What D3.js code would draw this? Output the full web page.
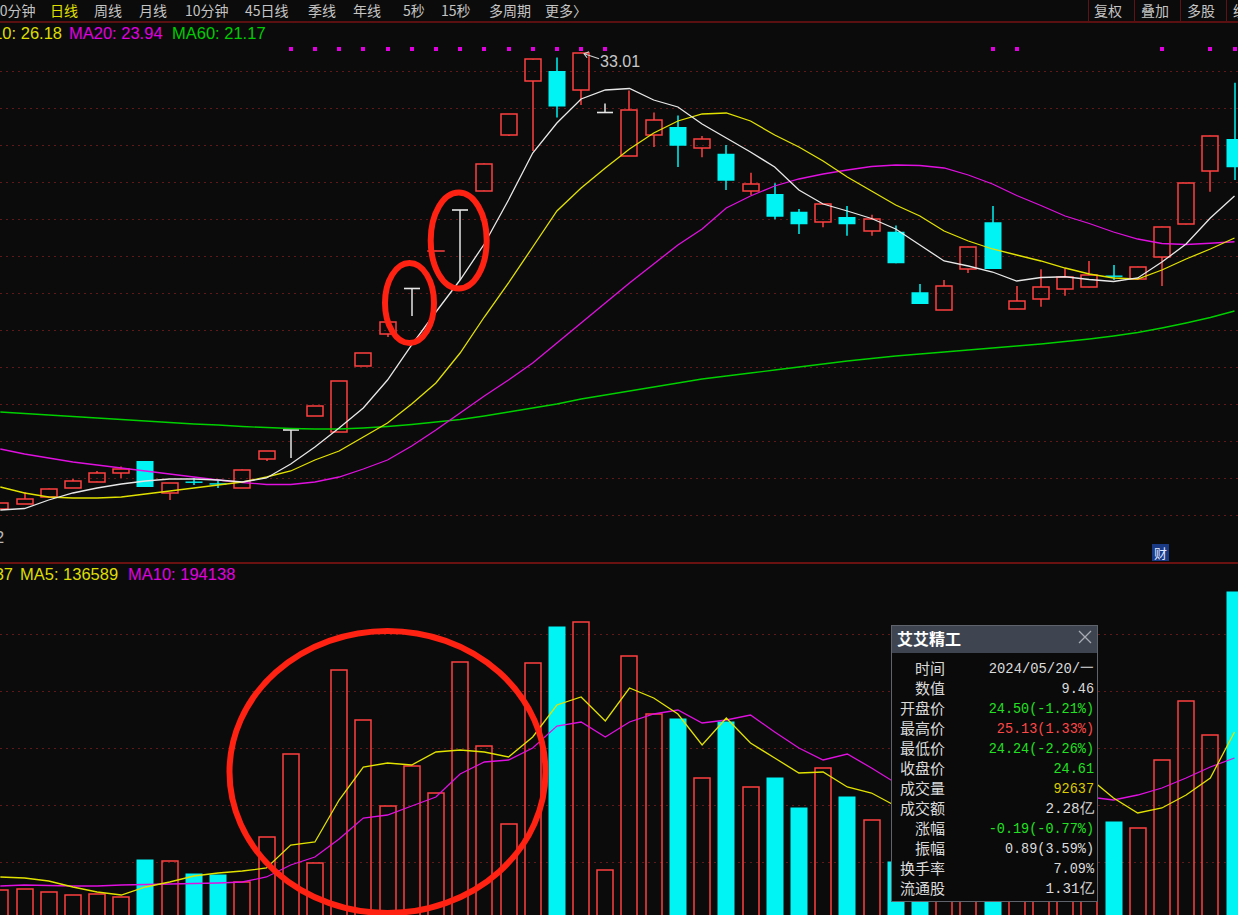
<!DOCTYPE html>
<html><head><meta charset="utf-8">
<script src="https://cdn.jsdelivr.net/npm/d3@7/dist/d3.min.js"></script>
<style>
html,body{margin:0;padding:0;background:#0b0b0b;overflow:hidden;}
svg{display:block;}
</style></head><body>
<svg id="c" width="1238" height="915"></svg>
<script>
// ---------------- DATA ----------------
const candleIndex = [0,1,2,3,4,5,6,7,8,9,10,11,12,13,14,15,16,17,18,19,20,21,22,23,24,25,26,27,28,29,30,31,32,33,34,35,36,37,38,39,40,41,42,43,44,45,46,47,48,49,50,51];
const open  = [14.76,14.96,15.26,15.60,15.86,16.18,16.68,15.42,15.86,15.79,15.60,16.76,17.92,18.48,17.84,20.48,21.76,23.58,25.08,26.72,27.50,29.74,31.88,32.28,31.50,30.62,28.88,29.72,30.04,29.19,28.97,27.48,27.36,26.65,26.24,26.44,25.88,25.85,23.43,22.72,24.36,26.23,22.77,23.16,23.57,23.63,24.10,23.96,24.85,26.15,28.29,29.56];
const close = [15.00,15.16,15.58,15.88,16.18,16.38,15.64,15.80,15.85,15.78,16.34,17.08,17.92,18.88,19.88,21.00,22.24,23.58,25.09,26.72,28.58,30.56,32.74,30.86,33.01,30.62,30.72,30.30,29.29,29.56,27.89,27.77,26.45,26.15,26.97,26.15,26.35,24.59,22.96,23.68,25.25,24.36,23.09,23.65,24.05,24.12,24.09,24.45,26.05,27.79,29.69,28.43];
const high  = [15.00,15.44,15.58,15.96,16.28,16.46,16.68,15.80,16.00,15.94,16.34,17.08,17.92,18.88,19.88,21.00,22.24,23.58,25.09,26.72,28.58,30.56,32.74,32.82,33.01,30.98,31.50,30.62,30.50,29.68,29.32,28.21,27.79,26.76,26.97,26.88,26.53,26.10,23.76,23.92,25.25,26.88,23.68,24.35,24.39,24.68,24.52,24.45,26.05,27.79,29.69,31.81];
const low   = [14.76,14.96,15.20,15.60,15.86,16.00,15.64,15.12,15.72,15.60,15.60,16.68,16.80,18.48,17.84,20.48,21.64,22.48,25.08,23.92,27.50,29.68,29.08,30.42,30.92,30.62,28.88,29.24,28.44,28.83,27.52,27.32,26.35,25.76,26.03,25.69,25.69,24.59,22.96,22.72,24.20,24.36,22.77,22.85,23.29,23.63,23.92,23.96,23.68,26.15,27.45,27.92];

const ma5  = [14.72,14.78,15.12,15.40,15.60,15.76,15.88,15.96,15.96,15.92,15.84,16.00,16.56,17.24,18.00,18.80,19.92,21.32,22.64,23.92,25.36,27.12,29.00,30.20,31.16,31.52,31.58,31.12,30.84,30.16,29.60,29.04,28.44,27.52,26.96,26.68,26.38,25.96,25.32,24.68,24.48,24.24,23.88,24.02,24.05,23.94,23.86,24.00,24.64,25.36,26.40,27.28];
const ma10 = [15.64,15.40,15.24,15.20,15.20,15.24,15.36,15.48,15.60,15.72,15.84,16.04,16.28,16.72,17.08,17.64,18.20,18.96,19.80,21.00,22.44,23.80,25.24,26.68,27.60,28.40,29.16,29.80,30.28,30.56,30.60,30.28,29.72,29.24,28.68,28.04,27.48,26.92,26.48,25.88,25.48,25.16,24.92,24.68,24.40,24.16,24.00,23.96,24.32,24.76,25.16,25.60];
const ma20 = [17.16,16.96,16.80,16.64,16.52,16.40,16.28,16.16,16.04,15.92,15.82,15.74,15.74,15.84,16.04,16.36,16.72,17.28,17.92,18.60,19.28,19.92,20.60,21.40,22.20,23.00,23.80,24.56,25.32,25.96,26.80,27.28,27.68,27.96,28.16,28.32,28.46,28.52,28.50,28.40,28.12,27.76,27.30,26.90,26.48,26.18,25.84,25.56,25.38,25.34,25.39,25.45];
const ma60 = [18.64,18.58,18.52,18.46,18.40,18.34,18.28,18.22,18.16,18.12,18.06,18.02,17.98,17.96,17.96,18.00,18.06,18.14,18.24,18.34,18.48,18.64,18.80,18.96,19.16,19.32,19.48,19.64,19.80,19.96,20.08,20.20,20.32,20.44,20.56,20.68,20.78,20.88,20.96,21.04,21.12,21.20,21.28,21.36,21.46,21.56,21.68,21.82,22.00,22.20,22.42,22.68];

const volume  = [31250,32500,29125,25000,26250,22875,68750,67875,51250,50000,41625,97875,201250,64625,306250,243750,136250,186625,152875,315875,211625,113375,314625,359625,365875,56250,324125,250875,244625,171625,241625,160375,170875,133375,183375,147125,118750,66625,150000,160000,120000,200000,110000,100000,90000,95000,115875,108375,193750,267875,225000,403750];
const volMA5  = [47500,46250,42500,35000,28750,25000,35000,41250,48750,52500,55000,58750,87500,91250,143750,185000,190000,187500,203750,206250,203750,197500,222500,262500,272500,242500,283750,271250,251250,212500,246250,215000,196250,177500,178750,160000,152500,136250,125000,118750,121250,137500,150000,162500,171250,171250,146250,127500,133750,150000,171250,228750];
const volMA10 = [36250,37500,36875,36250,36250,37500,38125,38750,39375,40000,41250,47500,62500,72500,95000,121250,125000,136250,147500,176250,191250,193750,208750,236250,241250,222500,241250,251250,256250,240000,243750,250000,228750,208750,193750,201250,183750,165000,160000,156250,153750,152500,151250,150000,148750,147500,143750,150000,158750,171250,185000,196250];

const signalFlag = [0,0,0,0,0,0,0,0,0,0,0,0,1,1,1,1,1,1,1,1,1,1,1,1,1,1,0,0,0,0,0,0,0,0,0,0,0,0,0,0,0,1,1,0,0,0,0,0,1,0,1,1];

const peakLabel = "33.01";
const priceLegend = [["MA10: 26.18","#dede00"],["MA20: 23.94","#e000e0"],["MA60: 21.17","#00cc00"]];
const volLegend = [["VOL: 92637","#dede00"],["MA5: 136589","#dede00"],["MA10: 194138","#e000e0"]];
const periodTabs = ["60分钟","日线","周线","月线","10分钟","45日线","季线","年线","5秒","15秒","多周期","更多〉"];
const rightTabs = ["复权","叠加","多股","统计"];
const tipTitle = "艾艾精工";
const tipLabels = ["时间","数值","开盘价","最高价","最低价","收盘价","成交量","成交额","涨幅","振幅","换手率","流通股"];
const tipValues = ["2024/05/20/一","9.46","24.50(-1.21%)","25.13(1.33%)","24.24(-2.26%)","24.61","92637","2.28亿","-0.19(-0.77%)","0.89(3.59%)","7.09%","1.31亿"];
const tipKinds  = ["n","n","g","r","g","g","y","n","g","n","n","n"];

// ---------------- LAYOUT ----------------
const RED="#ff4040", CYAN="#00f4f4", WHITE="#e6e6e6", RING="#ff2212";
const svg = d3.select("#c");
svg.append("rect").attr("width",1238).attr("height",915).attr("fill","#0b0b0b");

const x  = d3.scaleLinear().domain([0,51]).range([0.3,1234.5]);
const y  = d3.scaleLinear().domain([14,33.01]).range([528,52.75]);
const yv = d3.scaleLinear().domain([0,400000]).range([915,595]);
const bw = 16;
const SW = 1.5;

// grid lines
const gridG = svg.append("g");
d3.range(0,13).forEach(k=>{
  const gy = Math.round(70.7+37*k)+0.5;
  gridG.append("line").attr("x1",0).attr("x2",1238).attr("y1",gy).attr("y2",gy)
    .attr("stroke","#5e1a1a").attr("stroke-dasharray","2,4");
});
d3.range(0,5).forEach(k=>{
  const gy = Math.round(633.5+57*k)+0.5;
  gridG.append("line").attr("x1",0).attr("x2",1238).attr("y1",gy).attr("y2",gy)
    .attr("stroke","#5e1a1a").attr("stroke-dasharray","2,4");
});

// toolbar
const tb = svg.append("g").attr("font-family","'Noto Sans CJK SC','Noto Sans',sans-serif").attr("font-size",14);
const tabX = [-8,50,94,139,185,245,308,353,403,441,489,545];
periodTabs.forEach((t,i)=>{
  tb.append("text").attr("x",tabX[i]).attr("y",16).attr("fill", i===1?"#e0e000":"#c4c4c4").text(t);
});
const rtX = [1094,1141,1187,1233];
rightTabs.forEach((t,i)=>{
  tb.append("text").attr("x",rtX[i]).attr("y",16).attr("fill","#c4c4c4").text(t);
});
[1088,1134,1180,1226].forEach(sx=>{
  svg.append("line").attr("x1",sx+0.5).attr("x2",sx+0.5).attr("y1",0).attr("y2",21).attr("stroke","#5e1414").attr("stroke-width",1);
});
svg.append("line").attr("x1",0).attr("x2",1238).attr("y1",22).attr("y2",22).attr("stroke","#5a1010").attr("stroke-width",2);
svg.append("line").attr("x1",0).attr("x2",1238).attr("y1",563).attr("y2",563).attr("stroke","#6a1212").attr("stroke-width",2);

// legends
const lg = svg.append("g").attr("font-family","'Liberation Sans',Arial,sans-serif").attr("font-size",16.5);
lg.append("text").attr("x",62).attr("y",39).attr("text-anchor","end").attr("fill",priceLegend[0][1]).text(priceLegend[0][0]);
lg.append("text").attr("x",69).attr("y",39).attr("fill",priceLegend[1][1]).text(priceLegend[1][0]);
lg.append("text").attr("x",172).attr("y",39).attr("fill",priceLegend[2][1]).text(priceLegend[2][0]);
lg.append("text").attr("x",13).attr("y",580).attr("text-anchor","end").attr("fill",volLegend[0][1]).text(volLegend[0][0]);
lg.append("text").attr("x",20).attr("y",580).attr("fill",volLegend[1][1]).text(volLegend[1][0]);
lg.append("text").attr("x",128).attr("y",580).attr("fill",volLegend[2][1]).text(volLegend[2][0]);
lg.append("text").attr("x",-5).attr("y",543).attr("fill","#b8b8b8").text("2");

// signal markers
svg.append("g").selectAll("rect").data(candleIndex.filter(i=>signalFlag[i]===1)).join("rect")
  .attr("x",i=>Math.round(x(i))-2).attr("y",47).attr("width",4).attr("height",4).attr("fill","#e000e0");

// candles
const cg = svg.append("g");
const cdata = candleIndex.map(i=>({i,o:open[i],h:high[i],l:low[i],c:close[i]}));
cdata.forEach(d=>{
  const cx = Math.round(x(d.i));
  const left = Math.round(x(d.i)-bw/2);
  if(d.c>d.o){
    const top=Math.round(y(d.c)), bot=Math.round(y(d.o));
    cg.append("line").attr("x1",cx).attr("x2",cx).attr("y1",y(d.h)).attr("y2",top).attr("stroke",RED).attr("stroke-width",SW);
    cg.append("line").attr("x1",cx).attr("x2",cx).attr("y1",bot).attr("y2",y(d.l)).attr("stroke",RED).attr("stroke-width",SW);
    cg.append("rect").attr("x",left).attr("y",top).attr("width",bw)
      .attr("height",Math.max(0.01,bot-top)).attr("fill","none").attr("stroke",RED).attr("stroke-width",SW);
  } else if(d.c<d.o){
    const top=y(d.o), bot=y(d.c);
    cg.append("line").attr("x1",cx).attr("x2",cx).attr("y1",y(d.h)).attr("y2",y(d.l)).attr("stroke",CYAN).attr("stroke-width",SW);
    cg.append("rect").attr("x",left-0.5).attr("y",top).attr("width",bw+1)
      .attr("height",Math.max(1.4,bot-top)).attr("fill",CYAN);
  } else {
    cg.append("line").attr("x1",cx).attr("x2",cx).attr("y1",y(d.h)).attr("y2",y(d.l)).attr("stroke",WHITE).attr("stroke-width",1.5);
    cg.append("line").attr("x1",left).attr("x2",left+bw).attr("y1",y(d.o)).attr("y2",y(d.o)).attr("stroke",WHITE).attr("stroke-width",1.6);
  }
});

// price MAs
const lineP = d3.line().x((v,i)=>x(i)).y(v=>y(v));
[[ma60,"#00d000"],[ma20,"#e010e0"],[ma10,"#e2e200"],[ma5,"#e8e8e8"]].forEach(([arr,col])=>{
  svg.append("path").attr("d",lineP(arr)).attr("fill","none").attr("stroke",col).attr("stroke-width",1.3);
});

// peak label
const pk = candleIndex[high.indexOf(d3.max(high))];
svg.append("path").attr("d",`M${x(pk)+18},${y(high[pk])+6} L${x(pk)+3},${y(high[pk])+1}`).attr("stroke","#cfcfcf").attr("stroke-width",1.2);
svg.append("path").attr("d",`M${x(pk)+8},${y(high[pk])-1} L${x(pk)+3},${y(high[pk])+1} L${x(pk)+6},${y(high[pk])+5}`).attr("stroke","#cfcfcf").attr("fill","none").attr("stroke-width",1.2);
svg.append("text").attr("x",x(pk)+19).attr("y",y(high[pk])+14).attr("fill","#c8c8c8")
  .attr("font-family","'Liberation Sans',Arial,sans-serif").attr("font-size",16).text(peakLabel);

// 财 box
svg.append("rect").attr("x",1152).attr("y",544).attr("width",17).attr("height",17).attr("fill","#1b3a86");
svg.append("text").attr("x",1160.5).attr("y",558).attr("text-anchor","middle").attr("fill","#dfe8ff")
  .attr("font-family","'Noto Sans CJK SC',sans-serif").attr("font-size",13).text("财");

// volume bars
const vg = svg.append("g");
candleIndex.forEach(i=>{
  const up = close[i]>=open[i];
  const left = Math.round(x(i)-bw/2);
  const top = Math.round(yv(volume[i]));
  if(up){
    vg.append("rect").attr("x",left).attr("y",top).attr("width",bw).attr("height",920-top).attr("fill","none").attr("stroke",RED).attr("stroke-width",SW);
  } else {
    vg.append("rect").attr("x",left-0.5).attr("y",top-0.5).attr("width",bw+1).attr("height",920-top).attr("fill",CYAN);
  }
});
const lineV = d3.line().x((v,i)=>x(i)).y(v=>yv(v));
[[volMA10,"#e010e0"],[volMA5,"#e2e200"]].forEach(([arr,col])=>{
  svg.append("path").attr("d",lineV(arr)).attr("fill","none").attr("stroke",col).attr("stroke-width",1.3);
});

// annotation rings
const ring = (cx,cy,rx,ry)=>svg.append("ellipse").attr("cx",cx).attr("cy",cy).attr("rx",rx).attr("ry",ry)
  .attr("fill","none").attr("stroke",RING).attr("stroke-width",6);
ring(x(17)-2.2, y(23.00), 24.5, 40);
ring(x(19)-1.4, y(25.50), 28, 48);
ring(x(16), yv(178750), 158, 141);

// tooltip
const tg = svg.append("g");
tg.append("rect").attr("x",891.5).attr("y",625.5).attr("width",206).attr("height",276).attr("fill","#0a0a0a").attr("stroke","#5e636c");
tg.append("rect").attr("x",892).attr("y",626).attr("width",205).attr("height",27).attr("fill","#3e4550");
tg.append("text").attr("x",897).attr("y",645).attr("fill","#ffffff").attr("font-weight","bold")
  .attr("font-family","'Noto Sans CJK SC',sans-serif").attr("font-size",16).text(tipTitle);
tg.append("path").attr("d","M1079,631 L1091,643 M1091,631 L1079,643").attr("stroke","#a8acb2").attr("stroke-width",1.3);
const kindColor = {n:"#dadada", g:"#22e022", r:"#ff4848", y:"#dccc00"};
tipLabels.forEach((t,k)=>{
  tg.append("text").attr("x",945).attr("y",674+20*k).attr("text-anchor","end").attr("fill","#dadada")
    .attr("font-family","'Noto Sans CJK SC',sans-serif").attr("font-size",15).text(t);
  const v = tipValues[k];
  const units = Array.from(v).reduce((s,ch)=>s+(ch.charCodeAt(0)>255?2:1),0);
  tg.append("text").attr("x",1094-units*8.1).attr("y",673+20*k).attr("fill",kindColor[tipKinds[k]])
    .attr("textLength",units*8.1).attr("lengthAdjust","spacingAndGlyphs")
    .attr("font-family","'Liberation Mono','DejaVu Sans Mono',monospace").attr("font-size",15).text(v);
});
</script>
</body></html>
